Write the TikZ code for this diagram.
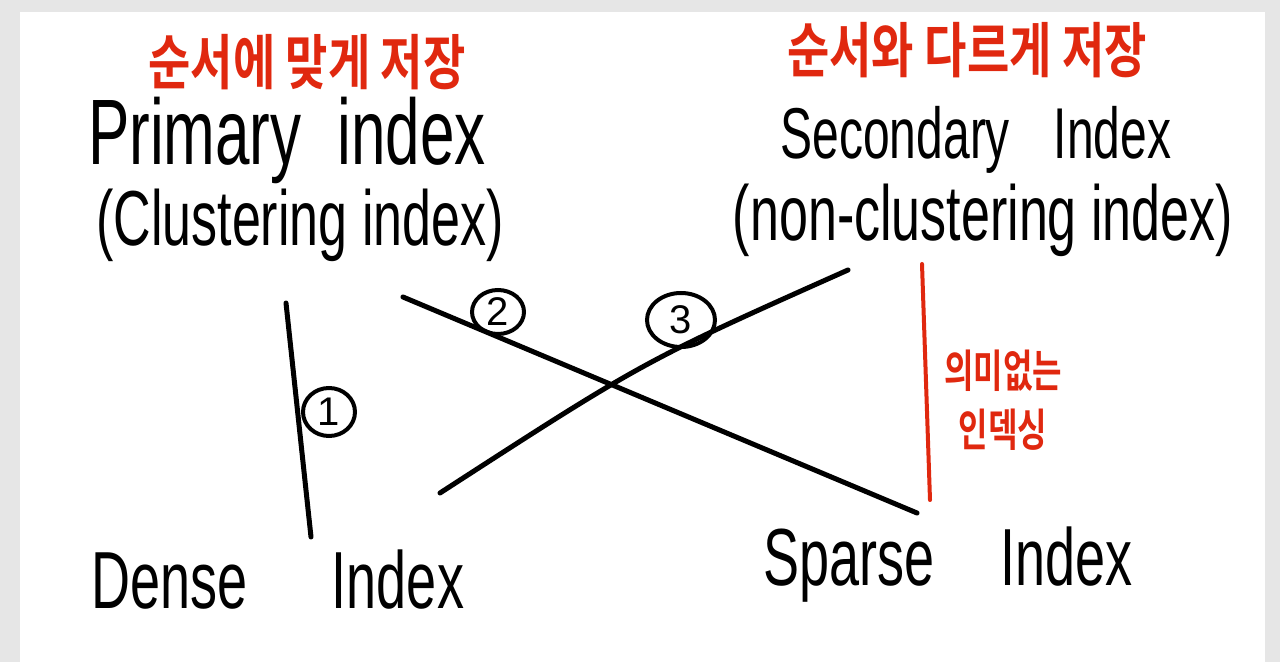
\documentclass[tikz,border=0pt]{standalone}
\usepackage{fontspec}
\setmainfont{Liberation Sans}
\newfontfamily\kr{Noto Sans CJK KR}[BoldFont={Noto Sans CJK KR Bold}]
\usetikzlibrary{shapes.geometric}
\definecolor{inkred}{HTML}{E0280F}
\definecolor{framegray}{HTML}{E6E6E6}
\begin{document}
\begin{tikzpicture}[x=0.5pt,y=-0.5pt,
  ink/.style={line width=2.5pt,line cap=round,line join=round},
  redink/.style={ink,draw=inkred,line width=2pt},
  hand/.style={inner sep=0pt,text=black},
  kor/.style={inner sep=0pt,text=inkred},
  num/.style={draw,ellipse,line width=2pt,inner sep=0pt,font=\fontsize{20}{20}\selectfont}
]
\useasboundingbox (0,0) rectangle (1280,662);
\fill[framegray] (0,0) rectangle (1280,662);
\fill[white] (20,12) rectangle (1265,662);

% red headings
\node[kor,font=\kr\bfseries\fontsize{23}{23}\selectfont] (h1) at (307,62) {\scalebox{1}[1.3]{순서에 맞게 저장}};
\node[kor,font=\kr\bfseries\fontsize{23}{23}\selectfont] (h2) at (967,50) {\scalebox{1}[1.3]{순서와 다르게 저장}};

% black titles
\node[hand,font=\fontsize{31}{31}\selectfont] (prim) at (287,140) {\scalebox{1}[1.5]{Primary\hspace{18pt}index}};
\node[hand,font=\fontsize{26}{26}\selectfont] (clus) at (300,225) {\scalebox{1}[1.5]{(Clustering index)}};
\node[hand,font=\fontsize{24}{24}\selectfont] (sec) at (976,140) {\scalebox{1}[1.5]{Secondary\hspace{22pt}Index}};
\node[hand,font=\fontsize{26}{26}\selectfont] (ncl) at (983,220) {\scalebox{1}[1.5]{(non-clustering index)}};
\node[hand,font=\fontsize{27}{27}\selectfont] (dense) at (278,580) {\scalebox{1}[1.5]{Dense\hspace{42pt}Index}};
\node[hand,font=\fontsize{27}{27}\selectfont] (sparse) at (948,565) {\scalebox{1}[1.5]{Sparse\hspace{33pt}Index}};

% red side note
\node[kor,font=\kr\bfseries\fontsize{16}{21}\selectfont] (note) at (1003,405) {\scalebox{1}[1.4]{\begin{tabular}{@{}c@{}}의미없는\\인덱싱\end{tabular}}};

% connector end points
\coordinate (a1) at (286,303);
\coordinate (a2) at (311,537);
\coordinate (b1) at (403,297);
\coordinate (b2) at (917,513);
\coordinate (c1) at (440,493);
\coordinate (c2) at (848,270);
\coordinate (c0) at (644,361);
\coordinate (r1) at (922,264);
\coordinate (r2) at (930,500);

\draw[ink] (a1) -- (a2);
\draw[ink] (b1) -- (b2);
\draw[ink] (c1) .. controls (c0) .. (c2);
\draw[redink] (r1) -- (r2);

% circled numbers
\node[num,minimum width=26pt,minimum height=24pt] (n1) at (329,412) {1};
\node[num,minimum width=26pt,minimum height=22pt] (n2) at (498,312) {2};
\node[num,minimum width=34pt,minimum height=27pt] (n3) at (681,320) {3};
\end{tikzpicture}
\end{document}
